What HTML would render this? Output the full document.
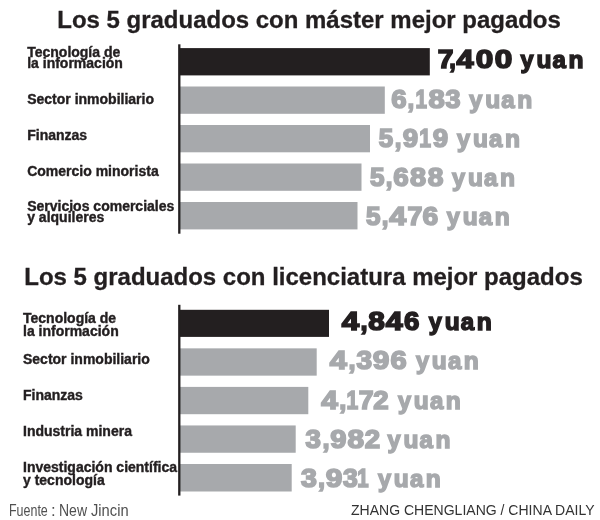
<!DOCTYPE html>
<html><head><meta charset="utf-8">
<style>
html,body{margin:0;padding:0;background:#fff;}
body{will-change:transform;width:600px;height:520px;position:relative;overflow:hidden;font-family:"Liberation Sans",sans-serif;color:#231f20;}
.t{position:absolute;white-space:nowrap;font-weight:bold;font-size:23.7px;line-height:23.7px;-webkit-text-stroke:0.3px #231f20;transform-origin:0 0;transform:translateX(0.3px) scaleX(1.012);}
.ax{position:absolute;background:#231f20;width:2.4px;}
.b{position:absolute;background:#a7a9ac;}
.b.k{background:#231f20;}
.l{position:absolute;white-space:nowrap;font-weight:bold;font-size:14px;line-height:14px;-webkit-text-stroke:0.4px #231f20;}
.d,.u{position:absolute;white-space:nowrap;font-weight:bold;transform-origin:0 0;color:#a7a9ac;-webkit-text-stroke-color:#a7a9ac;}
.d{font-size:25.3px;line-height:25.3px;-webkit-text-stroke-width:1.6px;}
.u{font-size:24.4px;line-height:24.4px;-webkit-text-stroke-width:1.5px;}
.k{color:#231f20;-webkit-text-stroke-color:#231f20;}
.f{position:absolute;white-space:nowrap;font-size:15px;line-height:15px;color:#505050;transform-origin:0 0;}
</style></head><body>
<div class="t" style="left:57px;top:8.95px;">Los 5 graduados con máster mejor pagados</div>
<div class="t" style="left:24px;top:265.95px;transform:translateX(0.3px) scaleX(1.0125);">Los 5 graduados con licenciatura mejor pagados</div>

<svg width="600" height="520" viewBox="0 0 600 520" style="position:absolute;left:0;top:0;">
<rect x="180" y="48.10" width="249.80" height="27.30" fill="#231f20"/>
<rect x="180" y="86.50" width="204.80" height="27.30" fill="#a7a9ac"/>
<rect x="180" y="125.00" width="190.00" height="27.30" fill="#a7a9ac"/>
<rect x="180" y="163.50" width="181.50" height="27.30" fill="#a7a9ac"/>
<rect x="180" y="202.00" width="177.50" height="27.40" fill="#a7a9ac"/>
<rect x="180" y="309.80" width="149.00" height="27.10" fill="#231f20"/>
<rect x="180" y="348.35" width="136.70" height="27.30" fill="#a7a9ac"/>
<rect x="180" y="386.90" width="128.30" height="27.30" fill="#a7a9ac"/>
<rect x="180" y="425.45" width="115.70" height="27.30" fill="#a7a9ac"/>
<rect x="180" y="464.00" width="111.70" height="27.50" fill="#a7a9ac"/>
<rect x="178.15" y="44.3" width="2.3" height="189.4" fill="#231f20"/>
<rect x="178.15" y="304.8" width="2.3" height="190.8" fill="#231f20"/>
</svg>
<div class="l" style="left:27.2px;top:44.65px;">Tecnología de</div>
<div class="l" style="left:27.2px;top:55.65px;">la información</div>
<div class="l" style="left:27.2px;top:91.65px;">Sector inmobiliario</div>
<div class="l" style="left:27.2px;top:127.65px;">Finanzas</div>
<div class="l" style="left:27.2px;top:163.65px;">Comercio minorista</div>
<div class="l" style="left:27.2px;top:199.15px;">Servicios comerciales</div>
<div class="l" style="left:27.2px;top:210.15px;">y alquileres</div>
<div class="l" style="left:23.0px;top:310.85px;">Tecnología de</div>
<div class="l" style="left:23.0px;top:324.25px;">la información</div>
<div class="l" style="left:23.0px;top:352.45px;">Sector inmobiliario</div>
<div class="l" style="left:23.0px;top:388.15px;">Finanzas</div>
<div class="l" style="left:23.0px;top:424.15px;">Industria minera</div>
<div class="l" style="left:23.0px;top:459.65px;">Investigación científica</div>
<div class="l" style="left:23.0px;top:473.35px;">y tecnología</div>
<div class="d k" style="left:437px;top:46.78px;transform:translateX(0.72px) scaleX(1.111);">7</div>
<div class="d k" style="left:449px;top:46.78px;transform:translateX(0.37px) scaleX(0.933);">,</div>
<div class="d k" style="left:456px;top:46.78px;transform:translateX(0.61px) scaleX(1.213);">4</div>
<div class="d k" style="left:475px;top:46.78px;transform:translateX(0.69px) scaleX(1.244);">0</div>
<div class="d k" style="left:494px;top:46.78px;transform:translateX(0.69px) scaleX(1.244);">0</div>
<div class="u k" style="left:520px;top:47.55px;transform:translateX(0.52px) scaleX(0.964);">y</div>
<div class="u k" style="left:536px;top:47.55px;transform:translateX(0.45px) scaleX(1.004);">u</div>
<div class="u k" style="left:552px;top:47.55px;transform:translateX(0.50px) scaleX(0.986);">a</div>
<div class="u k" style="left:568px;top:47.55px;transform:translateX(0.44px) scaleX(1.007);">n</div>
<div class="d" style="left:391px;top:86.98px;transform:translateX(0.23px) scaleX(1.091);">6</div>
<div class="d" style="left:407px;top:86.98px;transform:translateX(0.56px) scaleX(0.950);">,</div>
<div class="d" style="left:415px;top:86.98px;transform:translateX(0.39px) scaleX(0.815);">1</div>
<div class="d" style="left:428px;top:86.98px;transform:translateX(0.50px) scaleX(1.157);">8</div>
<div class="d" style="left:445px;top:86.98px;transform:translateX(0.57px) scaleX(1.067);">3</div>
<div class="u" style="left:469px;top:87.75px;transform:translateX(0.22px) scaleX(0.964);">y</div>
<div class="u" style="left:485px;top:87.75px;transform:translateX(0.15px) scaleX(1.004);">u</div>
<div class="u" style="left:501px;top:87.75px;transform:translateX(0.20px) scaleX(0.986);">a</div>
<div class="u" style="left:517px;top:87.75px;transform:translateX(0.14px) scaleX(1.007);">n</div>
<div class="d" style="left:378px;top:125.88px;transform:translateX(0.70px) scaleX(1.025);">5</div>
<div class="d" style="left:394px;top:125.88px;transform:translateX(0.76px) scaleX(0.950);">,</div>
<div class="d" style="left:402px;top:125.88px;transform:translateX(0.70px) scaleX(1.093);">9</div>
<div class="d" style="left:419px;top:125.88px;transform:translateX(0.37px) scaleX(0.837);">1</div>
<div class="d" style="left:432px;top:125.88px;transform:translateX(0.70px) scaleX(1.093);">9</div>
<div class="u" style="left:457px;top:126.65px;transform:translateX(0.02px) scaleX(0.964);">y</div>
<div class="u" style="left:472px;top:126.65px;transform:translateX(0.95px) scaleX(1.004);">u</div>
<div class="u" style="left:489px;top:126.65px;transform:translateX(0.00px) scaleX(0.986);">a</div>
<div class="u" style="left:504px;top:126.65px;transform:translateX(0.94px) scaleX(1.007);">n</div>
<div class="d" style="left:370px;top:165.18px;transform:translateX(0.00px) scaleX(1.032);">5</div>
<div class="d" style="left:385px;top:165.18px;transform:translateX(0.76px) scaleX(0.950);">,</div>
<div class="d" style="left:393px;top:165.18px;transform:translateX(0.33px) scaleX(1.098);">6</div>
<div class="d" style="left:410px;top:165.18px;transform:translateX(0.00px) scaleX(1.143);">8</div>
<div class="d" style="left:427px;top:165.18px;transform:translateX(0.70px) scaleX(1.114);">8</div>
<div class="u" style="left:452px;top:165.95px;transform:translateX(0.12px) scaleX(0.964);">y</div>
<div class="u" style="left:468px;top:165.95px;transform:translateX(0.05px) scaleX(1.004);">u</div>
<div class="u" style="left:484px;top:165.95px;transform:translateX(0.10px) scaleX(0.986);">a</div>
<div class="u" style="left:500px;top:165.95px;transform:translateX(0.04px) scaleX(1.007);">n</div>
<div class="d" style="left:366px;top:204.18px;transform:translateX(0.00px) scaleX(1.032);">5</div>
<div class="d" style="left:381px;top:204.18px;transform:translateX(0.76px) scaleX(0.950);">,</div>
<div class="d" style="left:389px;top:204.18px;transform:translateX(0.30px) scaleX(1.200);">4</div>
<div class="d" style="left:407px;top:204.18px;transform:translateX(0.44px) scaleX(1.059);">7</div>
<div class="d" style="left:422px;top:204.18px;transform:translateX(0.42px) scaleX(1.113);">6</div>
<div class="u" style="left:446px;top:204.95px;transform:translateX(0.72px) scaleX(0.964);">y</div>
<div class="u" style="left:462px;top:204.95px;transform:translateX(0.65px) scaleX(1.004);">u</div>
<div class="u" style="left:478px;top:204.95px;transform:translateX(0.70px) scaleX(0.986);">a</div>
<div class="u" style="left:494px;top:204.95px;transform:translateX(0.64px) scaleX(1.007);">n</div>
<div class="d k" style="left:341px;top:308.88px;transform:translateX(0.82px) scaleX(1.233);">4</div>
<div class="d k" style="left:360px;top:308.88px;transform:translateX(0.45px) scaleX(1.000);">,</div>
<div class="d k" style="left:368px;top:308.88px;transform:translateX(0.20px) scaleX(1.179);">8</div>
<div class="d k" style="left:385px;top:308.88px;transform:translateX(0.80px) scaleX(1.200);">4</div>
<div class="d k" style="left:403px;top:308.88px;transform:translateX(0.93px) scaleX(1.091);">6</div>
<div class="u k" style="left:428px;top:309.65px;transform:translateX(0.72px) scaleX(0.964);">y</div>
<div class="u k" style="left:444px;top:309.65px;transform:translateX(0.65px) scaleX(1.004);">u</div>
<div class="u k" style="left:460px;top:309.65px;transform:translateX(0.70px) scaleX(0.986);">a</div>
<div class="u k" style="left:476px;top:309.65px;transform:translateX(0.64px) scaleX(1.007);">n</div>
<div class="d" style="left:329px;top:347.78px;transform:translateX(0.81px) scaleX(1.213);">4</div>
<div class="d" style="left:348px;top:347.78px;transform:translateX(0.45px) scaleX(1.000);">,</div>
<div class="d" style="left:356px;top:347.78px;transform:translateX(0.48px) scaleX(1.109);">3</div>
<div class="d" style="left:372px;top:347.78px;transform:translateX(0.70px) scaleX(1.179);">9</div>
<div class="d" style="left:390px;top:347.78px;transform:translateX(0.41px) scaleX(1.149);">6</div>
<div class="u" style="left:415px;top:348.55px;transform:translateX(0.92px) scaleX(0.964);">y</div>
<div class="u" style="left:431px;top:348.55px;transform:translateX(0.85px) scaleX(1.004);">u</div>
<div class="u" style="left:447px;top:348.55px;transform:translateX(0.90px) scaleX(0.986);">a</div>
<div class="u" style="left:463px;top:348.55px;transform:translateX(0.84px) scaleX(1.007);">n</div>
<div class="d" style="left:321px;top:387.98px;transform:translateX(0.29px) scaleX(1.180);">4</div>
<div class="d" style="left:339px;top:387.98px;transform:translateX(0.25px) scaleX(1.000);">,</div>
<div class="d" style="left:346px;top:387.98px;transform:translateX(0.38px) scaleX(0.830);">1</div>
<div class="d" style="left:358px;top:387.98px;transform:translateX(0.74px) scaleX(1.052);">7</div>
<div class="d" style="left:373px;top:387.98px;transform:translateX(0.20px) scaleX(1.091);">2</div>
<div class="u" style="left:397px;top:388.75px;transform:translateX(0.92px) scaleX(0.964);">y</div>
<div class="u" style="left:413px;top:388.75px;transform:translateX(0.85px) scaleX(1.004);">u</div>
<div class="u" style="left:429px;top:388.75px;transform:translateX(0.90px) scaleX(0.986);">a</div>
<div class="u" style="left:445px;top:388.75px;transform:translateX(0.84px) scaleX(1.007);">n</div>
<div class="d" style="left:305px;top:427.18px;transform:translateX(0.47px) scaleX(1.095);">3</div>
<div class="d" style="left:322px;top:427.18px;transform:translateX(0.45px) scaleX(1.000);">,</div>
<div class="d" style="left:330px;top:427.18px;transform:translateX(0.20px) scaleX(1.150);">9</div>
<div class="d" style="left:347px;top:427.18px;transform:translateX(0.50px) scaleX(1.179);">8</div>
<div class="d" style="left:364px;top:427.18px;transform:translateX(0.70px) scaleX(1.091);">2</div>
<div class="u" style="left:387px;top:427.95px;transform:translateX(0.52px) scaleX(0.964);">y</div>
<div class="u" style="left:403px;top:427.95px;transform:translateX(0.45px) scaleX(1.004);">u</div>
<div class="u" style="left:419px;top:427.95px;transform:translateX(0.50px) scaleX(0.986);">a</div>
<div class="u" style="left:435px;top:427.95px;transform:translateX(0.44px) scaleX(1.007);">n</div>
<div class="d" style="left:300px;top:466.28px;transform:translateX(0.98px) scaleX(1.130);">3</div>
<div class="d" style="left:318px;top:466.28px;transform:translateX(0.05px) scaleX(1.000);">,</div>
<div class="d" style="left:325px;top:466.28px;transform:translateX(0.80px) scaleX(1.179);">9</div>
<div class="d" style="left:343px;top:466.28px;transform:translateX(0.06px) scaleX(1.053);">3</div>
<div class="d" style="left:357px;top:466.28px;transform:translateX(0.19px) scaleX(0.807);">1</div>
<div class="u" style="left:377px;top:467.05px;transform:translateX(0.92px) scaleX(0.964);">y</div>
<div class="u" style="left:393px;top:467.05px;transform:translateX(0.85px) scaleX(1.004);">u</div>
<div class="u" style="left:409px;top:467.05px;transform:translateX(0.90px) scaleX(0.986);">a</div>
<div class="u" style="left:425px;top:467.05px;transform:translateX(0.84px) scaleX(1.007);">n</div>
<div class="f" style="left:9.41px;top:502.61px;font-size:15.7px;line-height:15.7px;transform:scaleX(0.794);">Fuente</div>
<div class="f" style="left:51.20px;top:502.61px;font-size:15.7px;line-height:15.7px;transform:scaleX(1.067);">:</div>
<div class="f" style="left:59.18px;top:502.61px;font-size:15.7px;line-height:15.7px;transform:scaleX(0.893);">New</div>
<div class="f" style="left:91.47px;top:502.61px;font-size:15.7px;line-height:15.7px;transform:scaleX(0.937);">Jincin</div>
<div class="f" style="left:351px;top:503.1px;font-size:14.5px;transform:scaleX(0.967);color:#333;">ZHANG CHENGLIANG / CHINA DAILY</div>
</body></html>
